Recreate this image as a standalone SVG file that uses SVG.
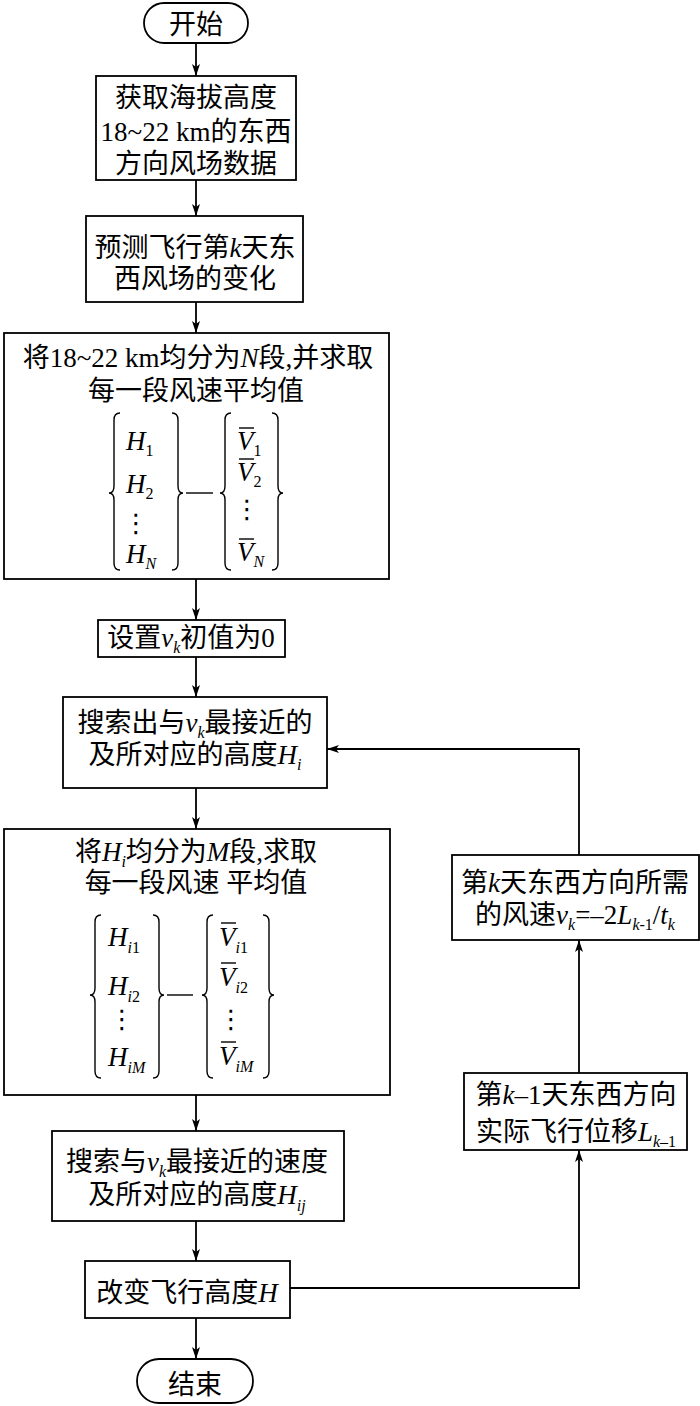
<svg xmlns="http://www.w3.org/2000/svg" width="700" height="1406" viewBox="0 0 700 1406">
<style>
.b{fill:#fff;stroke:#000;stroke-width:1.8}
.t{font-family:'Liberation Serif','Noto Sans CJK SC',serif;font-size:27px;fill:#000;text-anchor:middle}
.m{font-family:'Liberation Serif','Noto Sans CJK SC',serif;font-size:27px;fill:#000}
.i{font-style:italic}
.s{font-size:16px}
.d{font-family:'DejaVu Sans',sans-serif;font-size:26px;fill:#000;text-anchor:middle}
.c{fill:none;stroke:#000;stroke-width:1.8}
.br{fill:none;stroke:#000;stroke-width:1.4}
.ol{stroke:#000;stroke-width:1.4}
</style>
<defs>
<marker id="ah" viewBox="0 0 12 8" refX="12" refY="4" markerWidth="12" markerHeight="8" markerUnits="userSpaceOnUse" orient="auto">
<path d="M0,0 L12,4 L0,8 L3,4 z" fill="#000"/>
</marker>
</defs>
<g id="connectors">
<line class="c" x1="196" y1="43" x2="196" y2="76" marker-end="url(#ah)"/>
<line class="c" x1="196" y1="180" x2="196" y2="216" marker-end="url(#ah)"/>
<line class="c" x1="196" y1="302" x2="196" y2="333" marker-end="url(#ah)"/>
<line class="c" x1="196" y1="579" x2="196" y2="620" marker-end="url(#ah)"/>
<line class="c" x1="196" y1="657" x2="196" y2="697" marker-end="url(#ah)"/>
<line class="c" x1="196" y1="788" x2="196" y2="829" marker-end="url(#ah)"/>
<line class="c" x1="196" y1="1095" x2="196" y2="1131" marker-end="url(#ah)"/>
<line class="c" x1="196" y1="1221" x2="196" y2="1261" marker-end="url(#ah)"/>
<line class="c" x1="196" y1="1318" x2="196" y2="1359" marker-end="url(#ah)"/>
<polyline class="c" points="290,1288 579,1288 579,1150" marker-end="url(#ah)"/>
<line class="c" x1="579" y1="1073" x2="579" y2="940" marker-end="url(#ah)"/>
<polyline class="c" points="579,855 579,749 327,749" marker-end="url(#ah)"/>
</g>
<g id="start">
<rect class="b" x="144" y="3" width="104" height="40" rx="20"/>
<text class="t" x="196" y="34">开始</text>
</g>
<g id="n1">
<rect class="b" x="96" y="76" width="200" height="104"/>
<text class="t" x="196" y="107">获取海拔高度</text>
<text class="t" x="196" y="141">18~22 km的东西</text>
<text class="t" x="196" y="173">方向风场数据</text>
</g>
<g id="n2">
<rect class="b" x="86" y="216" width="217" height="86"/>
<text class="t" x="195" y="257">预测飞行第<tspan class="i">k</tspan>天东</text>
<text class="t" x="195" y="288">西风场的变化</text>
</g>
<g id="n3">
<rect class="b" x="4" y="333" width="385" height="246"/>
<text class="t" x="198" y="367">将18~22 km均分为<tspan class="i">N</tspan>段,并求取</text>
<text class="t" x="196" y="400">每一段风速平均值</text>
<path class="br" d="M120,413 Q114,413 114,420 L114,486 Q114,493 109,493 Q114,493 114,500 L114,563 Q114,570 120,570"/>
<path class="br" d="M172,413 Q178,413 178,420 L178,486 Q178,493 183,493 Q178,493 178,500 L178,563 Q178,570 172,570"/>
<line class="ol" x1="186" y1="493" x2="213" y2="493"/>
<path class="br" d="M231,413 Q225,413 225,420 L225,486 Q225,493 220,493 Q225,493 225,500 L225,563 Q225,570 231,570"/>
<path class="br" d="M272,413 Q278,413 278,420 L278,486 Q278,493 283,493 Q278,493 278,500 L278,563 Q278,570 272,570"/>
<text class="m" x="126" y="450"><tspan class="i">H</tspan><tspan class="s" dy="6">1</tspan></text>
<text class="m" x="126" y="493"><tspan class="i">H</tspan><tspan class="s" dy="6">2</tspan></text>
<text class="d" x="136" y="532">⋮</text>
<text class="m" x="126" y="563"><tspan class="i">H</tspan><tspan class="s i" dy="6">N</tspan></text>
<text class="m" x="237" y="450"><tspan class="i">V</tspan><tspan class="s" dy="6">1</tspan></text>
<line class="ol" x1="239" y1="428" x2="254" y2="428"/>
<text class="m" x="237" y="481"><tspan class="i">V</tspan><tspan class="s" dy="6">2</tspan></text>
<line class="ol" x1="239" y1="459" x2="254" y2="459"/>
<text class="d" x="247" y="518">⋮</text>
<text class="m" x="237" y="561"><tspan class="i">V</tspan><tspan class="s i" dy="6">N</tspan></text>
<line class="ol" x1="239" y1="539" x2="254" y2="539"/>
</g>
<g id="n4">
<rect class="b" x="98" y="620" width="187" height="37"/>
<text class="t" x="191" y="647">设置<tspan class="i">v</tspan><tspan class="s i" dy="6">k</tspan><tspan dy="-6">初值为0</tspan></text>
</g>
<g id="n5">
<rect class="b" x="63" y="697" width="264" height="91"/>
<text class="t" x="195" y="732">搜索出与<tspan class="i">v</tspan><tspan class="s i" dy="6">k</tspan><tspan dy="-6">最接近的</tspan></text>
<text class="t" x="195" y="764">及所对应的高度<tspan class="i">H</tspan><tspan class="s i" dy="6">i</tspan></text>
</g>
<g id="n6">
<rect class="b" x="4" y="829" width="386" height="266"/>
<text class="t" x="196" y="861">将<tspan class="i">H</tspan><tspan class="s i" dy="6">i</tspan><tspan dy="-6">均分为</tspan><tspan class="i">M</tspan>段,求取</text>
<text class="t" x="196" y="892">每一段风速 平均值</text>
<path class="br" d="M101,915 Q95,915 95,922 L95,988 Q95,995 90,995 Q95,995 95,1002 L95,1071 Q95,1078 101,1078"/>
<path class="br" d="M153,915 Q159,915 159,922 L159,988 Q159,995 164,995 Q159,995 159,1002 L159,1071 Q159,1078 153,1078"/>
<line class="ol" x1="167" y1="995" x2="193" y2="995"/>
<path class="br" d="M213,915 Q207,915 207,922 L207,988 Q207,995 202,995 Q207,995 207,1002 L207,1071 Q207,1078 213,1078"/>
<path class="br" d="M263,915 Q269,915 269,922 L269,988 Q269,995 274,995 Q269,995 269,1002 L269,1071 Q269,1078 263,1078"/>
<text class="m" x="108" y="946"><tspan class="i">H</tspan><tspan class="s" dy="7"><tspan class="i">i</tspan>1</tspan></text>
<text class="m" x="108" y="995"><tspan class="i">H</tspan><tspan class="s" dy="7"><tspan class="i">i</tspan>2</tspan></text>
<text class="d" x="122" y="1028">⋮</text>
<text class="m" x="108" y="1066"><tspan class="i">H</tspan><tspan class="s i" dy="7">iM</tspan></text>
<text class="m" x="219" y="946"><tspan class="i">V</tspan><tspan class="s" dy="7"><tspan class="i">i</tspan>1</tspan></text>
<line class="ol" x1="221" y1="923" x2="236" y2="923"/>
<text class="m" x="219" y="986"><tspan class="i">V</tspan><tspan class="s" dy="7"><tspan class="i">i</tspan>2</tspan></text>
<line class="ol" x1="221" y1="963" x2="236" y2="963"/>
<text class="d" x="231" y="1028">⋮</text>
<text class="m" x="219" y="1065"><tspan class="i">V</tspan><tspan class="s i" dy="7">iM</tspan></text>
<line class="ol" x1="221" y1="1042" x2="236" y2="1042"/>
</g>
<g id="n7">
<rect class="b" x="52" y="1131" width="292" height="90"/>
<text class="t" x="197" y="1171">搜索与<tspan class="i">v</tspan><tspan class="s i" dy="6">k</tspan><tspan dy="-6">最接近的速度</tspan></text>
<text class="t" x="197" y="1204">及所对应的高度<tspan class="i">H</tspan><tspan class="s i" dy="7">ij</tspan></text>
</g>
<g id="n8">
<rect class="b" x="85" y="1261" width="205" height="57"/>
<text class="t" x="187" y="1302">改变飞行高度<tspan class="i">H</tspan></text>
</g>
<g id="end">
<rect class="b" x="137" y="1359" width="116" height="44" rx="22"/>
<text class="t" x="195" y="1394">结束</text>
</g>
<g id="n9">
<rect class="b" x="452" y="855" width="247" height="85"/>
<text class="t" x="575" y="892">第<tspan class="i">k</tspan>天东西方向所需</text>
<text class="t" x="575" y="924">的风速<tspan class="i">v</tspan><tspan class="s i" dy="6">k</tspan><tspan dy="-6">=–2</tspan><tspan class="i">L</tspan><tspan class="s" dy="6"><tspan class="i">k</tspan>-1</tspan><tspan dy="-6">/</tspan><tspan class="i">t</tspan><tspan class="s i" dy="6">k</tspan></text>
</g>
<g id="n10">
<rect class="b" x="464" y="1073" width="223" height="77"/>
<text class="t" x="576" y="1104">第<tspan class="i">k</tspan>–1天东西方向</text>
<text class="t" x="576" y="1141">实际飞行位移<tspan class="i">L</tspan><tspan class="s" dy="6"><tspan class="i">k</tspan>–1</tspan></text>
</g>
</svg>
